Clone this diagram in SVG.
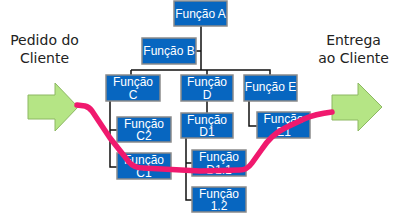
<svg xmlns="http://www.w3.org/2000/svg" width="400" height="214" viewBox="0 0 400 214">
<style>
.box{fill:#0766c0;stroke:#8a8a8a;stroke-width:1.5}
.bt{font-family:"Liberation Sans",Arial,sans-serif;font-size:12px;fill:#fff;text-anchor:middle}
.lab{font-family:"DejaVu Sans",sans-serif;font-size:14px;fill:#222;text-anchor:middle}
.con{fill:none;stroke:#111;stroke-width:1.5}
.arr{fill:#b5e585;stroke:#8db863;stroke-width:1}
.path{fill:none;stroke:#f0196e;stroke-width:5.5;stroke-linecap:round;stroke-linejoin:round}
</style>
<rect width="400" height="214" fill="#fff"/>
<g id="connectors">
<path class="con" d="M201,26 V70 M196,51 H201 M131,70 H270 V75 M131,70 V75 M207,70 V75"/>
<path class="con" d="M110,101 V167 H117 M110,130 H117"/>
<path class="con" d="M207,101 V113"/>
<path class="con" d="M186,138 V200 H192 M186,163 H192"/>
<path class="con" d="M249,101 V126 H257"/>
</g>
<g id="label-pedido"><text class="lab" x="44.5" y="45">Pedido do</text><text class="lab" x="44.5" y="63">Cliente</text></g>
<g id="label-entrega"><text class="lab" x="353.5" y="45">Entrega</text><text class="lab" x="353.5" y="63">ao Cliente</text></g>
<g id="arrow-in"><path class="arr" d="M28,95 H55 V83 L78,107 L55,131 V119 H28 Z"/></g>
<g id="arrow-out"><path class="arr" d="M332,95 H358 V83 L382,107 L358,131 V120 H332 Z"/></g>
<g id="funcA"><rect class="box" x="174" y="1" width="53" height="25"/><text class="bt" x="200.5" y="18">Função A</text></g>
<g id="funcB"><rect class="box" x="142" y="38" width="54" height="26"/><text class="bt" x="169" y="55">Função B</text></g>
<g id="funcC"><rect class="box" x="106" y="75" width="54" height="26"/><text class="bt" x="133" y="86">Função</text><text class="bt" x="133" y="98.5">C</text></g>
<g id="funcD"><rect class="box" x="181" y="75" width="52" height="26"/><text class="bt" x="207" y="86">Função</text><text class="bt" x="207" y="98.5">D</text></g>
<g id="funcE"><rect class="box" x="244" y="75" width="53" height="26"/><text class="bt" x="270.5" y="91">Função E</text></g>
<g id="funcC2"><rect class="box" x="117" y="117" width="54" height="25"/><text class="bt" x="144" y="127.5">Função</text><text class="bt" x="144" y="140">C2</text></g>
<g id="funcC1"><rect class="box" x="117" y="153" width="54" height="26"/><text class="bt" x="144" y="164">Função</text><text class="bt" x="144" y="176.5">C1</text></g>
<g id="funcD1"><rect class="box" x="181" y="113" width="52" height="25"/><text class="bt" x="207" y="123.5">Função</text><text class="bt" x="207" y="136">D1</text></g>
<g id="funcD11"><rect class="box" x="192" y="150" width="54" height="26"/><text class="bt" x="219" y="161">Função</text><text class="bt" x="219" y="173.5">D1.1</text></g>
<g id="func12"><rect class="box" x="192" y="187" width="54" height="25"/><text class="bt" x="219" y="197.5">Função</text><text class="bt" x="219" y="210">1.2</text></g>
<g id="funcE1"><rect class="box" x="257" y="112" width="53" height="26"/><text class="bt" x="283.5" y="123">Função</text><text class="bt" x="283.5" y="135.5">E1</text></g>
<g id="process-path"><path class="path" d="M77,105 L85,106 Q89,107 92,111 L110,138 L129,162 Q134,168 143,168 L200,171 L240,170 Q247,170 252,163 L262,149 Q271,135 285,128 L304,119 Q315,114 332,112"/></g>
</svg>
